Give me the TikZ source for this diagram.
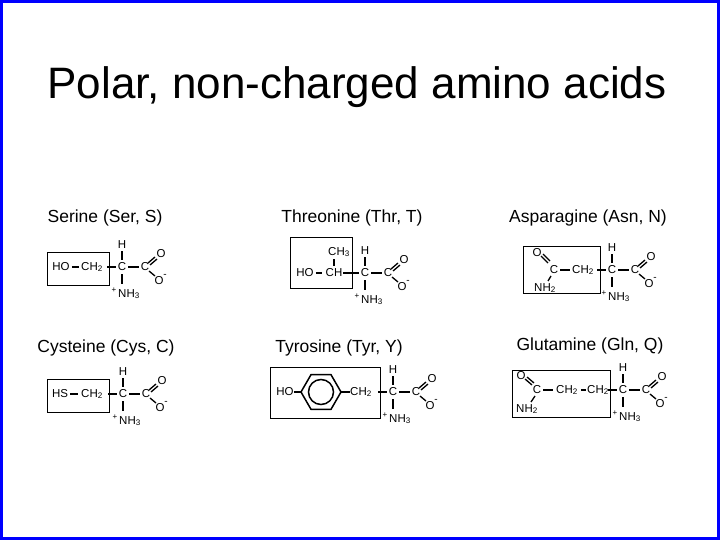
\documentclass[tikz,border=0pt]{standalone}
\usepackage{fontspec}
\setmainfont{Liberation Sans}
\usetikzlibrary{shapes.geometric}
\begin{document}
\begin{tikzpicture}[x=1pt,y=-1pt,
  ch/.style={inner sep=0pt,font=\fontsize{11.5}{13}\selectfont},
  ttl/.style={inner sep=0pt,font=\fontsize{17.5}{20}\selectfont},
  bd/.style={line width=1.3pt},
  sbox/.style={draw,line width=0.8pt}]
\useasboundingbox (0,0) rectangle (720,540);
\draw[blue,line width=3pt] (1.5,1.5) rectangle (718.5,538.5);
\node[inner sep=0pt,font=\fontsize{44}{50}\selectfont] (title) at (357,87) {Polar, non-charged amino acids};
\newcommand{\alphapart}[3]{%
 \begin{scope}[shift={(#1,#2)}]
  \node[ch] (#3a) at (0,0) {C};
  \node[ch] (#3h) at (0,-22) {H};
  \draw[bd] (0,-16) -- (0,-7);
  \draw[bd] (0,7) -- (0,17);
  \node[ch] (#3n) at (7,27) {NH\textsubscript{3}};
  \node[ch,font=\fontsize{8}{9}\selectfont] (#3p) at (-8,23) {+};
  \draw[bd] (-15,0) -- (-6,0);
  \draw[bd] (6,0) -- (17,0);
  \node[ch] (#3c) at (23,0) {C};
  \node[ch] (#3o) at (39,-13) {O};
  \draw[bd] (26,-4) -- (33,-10);
  \draw[bd] (28,-2) -- (35,-8);
  \node[ch] (#3m) at (37,14) {O};
  \node[ch,font=\fontsize{10}{10}\selectfont] (#3mm) at (43,9) {-};
  \draw[bd] (27,4) -- (33,9);
 \end{scope}}
% Serine
\node[ttl] (t1) at (105,218) {Serine (Ser, S)};
\draw[sbox] (47,252) rectangle (109,285);
\node[ch] (s1) at (61,267) {HO};
\node[ch] (s2) at (92,267) {CH\textsubscript{2}};
\draw[bd] (s1.east)++(2,0) -- ++(7,0);
\alphapart{122}{267}{ser}
% Cysteine
\node[ttl] (t4) at (106,348) {Cysteine (Cys, C)};
\draw[sbox] (47,379) rectangle (109,412);
\node[ch] (c1) at (60,394) {HS};
\node[ch] (c2) at (92,394) {CH\textsubscript{2}};
\draw[bd] (c1.east)++(2,0) -- ++(8,0);
\alphapart{123}{394}{cys}
% Threonine
\node[ttl] (t2) at (352,218) {Threonine (Thr, T)};
\draw[sbox] (290,237) rectangle (352,288);
\node[ch] (h1) at (305,273) {HO};
\node[ch] (h2) at (334,273) {CH};
\node[ch] (h3) at (339,252) {CH\textsubscript{3}};
\draw[bd] (h1.east)++(2,0) -- ++(6,0);
\draw[bd] (334,259) -- (334,266);
\draw[bd] (343,273) -- (350,273);
\alphapart{365}{273}{thr}
% Asparagine
\node[ttl] (t3) at (588,218) {Asparagine (Asn, N)};
\draw[sbox] (523,246) rectangle (600,293);
\node[ch] (n1) at (537,253) {O};
\node[ch] (n2) at (554,270) {C};
\node[ch] (n3) at (545,288) {NH\textsubscript{2}};
\node[ch] (n4) at (583,270) {CH\textsubscript{2}};
\draw[bd] (541,256) -- (548,263);
\draw[bd] (543,254) -- (550,261);
\draw[bd] (551,276) -- (548,281);
\draw[bd] (560,270) -- (570,270);
\alphapart{612}{270}{asn}
% Tyrosine
\node[ttl] (t5) at (339,348) {Tyrosine (Tyr, Y)};
\draw[sbox] (270,367) rectangle (380,418);
\node[ch] (y1) at (285,392) {HO};
\node[draw,regular polygon,regular polygon sides=6,minimum size=40pt,inner sep=0pt,line width=1.5pt] (ring) at (321,392) {};
\draw[line width=1.5pt] (321,392) circle (12.5);
\draw[bd] (y1.east) -- (301,392);
\draw[bd] (341,392) -- (350,392);
\node[ch] (y2) at (361,392) {CH\textsubscript{2}};
\alphapart{393}{392}{tyr}
% Glutamine
\node[ttl] (t6) at (590,346) {Glutamine (Gln, Q)};
\draw[sbox] (512,370) rectangle (610,417);
\node[ch] (q1) at (521,376) {O};
\node[ch] (q2) at (537,390) {C};
\node[ch] (q3) at (527,409) {NH\textsubscript{2}};
\node[ch] (q4) at (567,390) {CH\textsubscript{2}};
\node[ch] (q5) at (598,390) {CH\textsubscript{2}};
\draw[bd] (525,379) -- (532,385);
\draw[bd] (527,377) -- (534,383);
\draw[bd] (535,396) -- (531,402);
\draw[bd] (543,390) -- (553,390);
\draw[bd] (581,390) -- (586,390);
\alphapart{623}{390}{gln}
\end{tikzpicture}
\end{document}
